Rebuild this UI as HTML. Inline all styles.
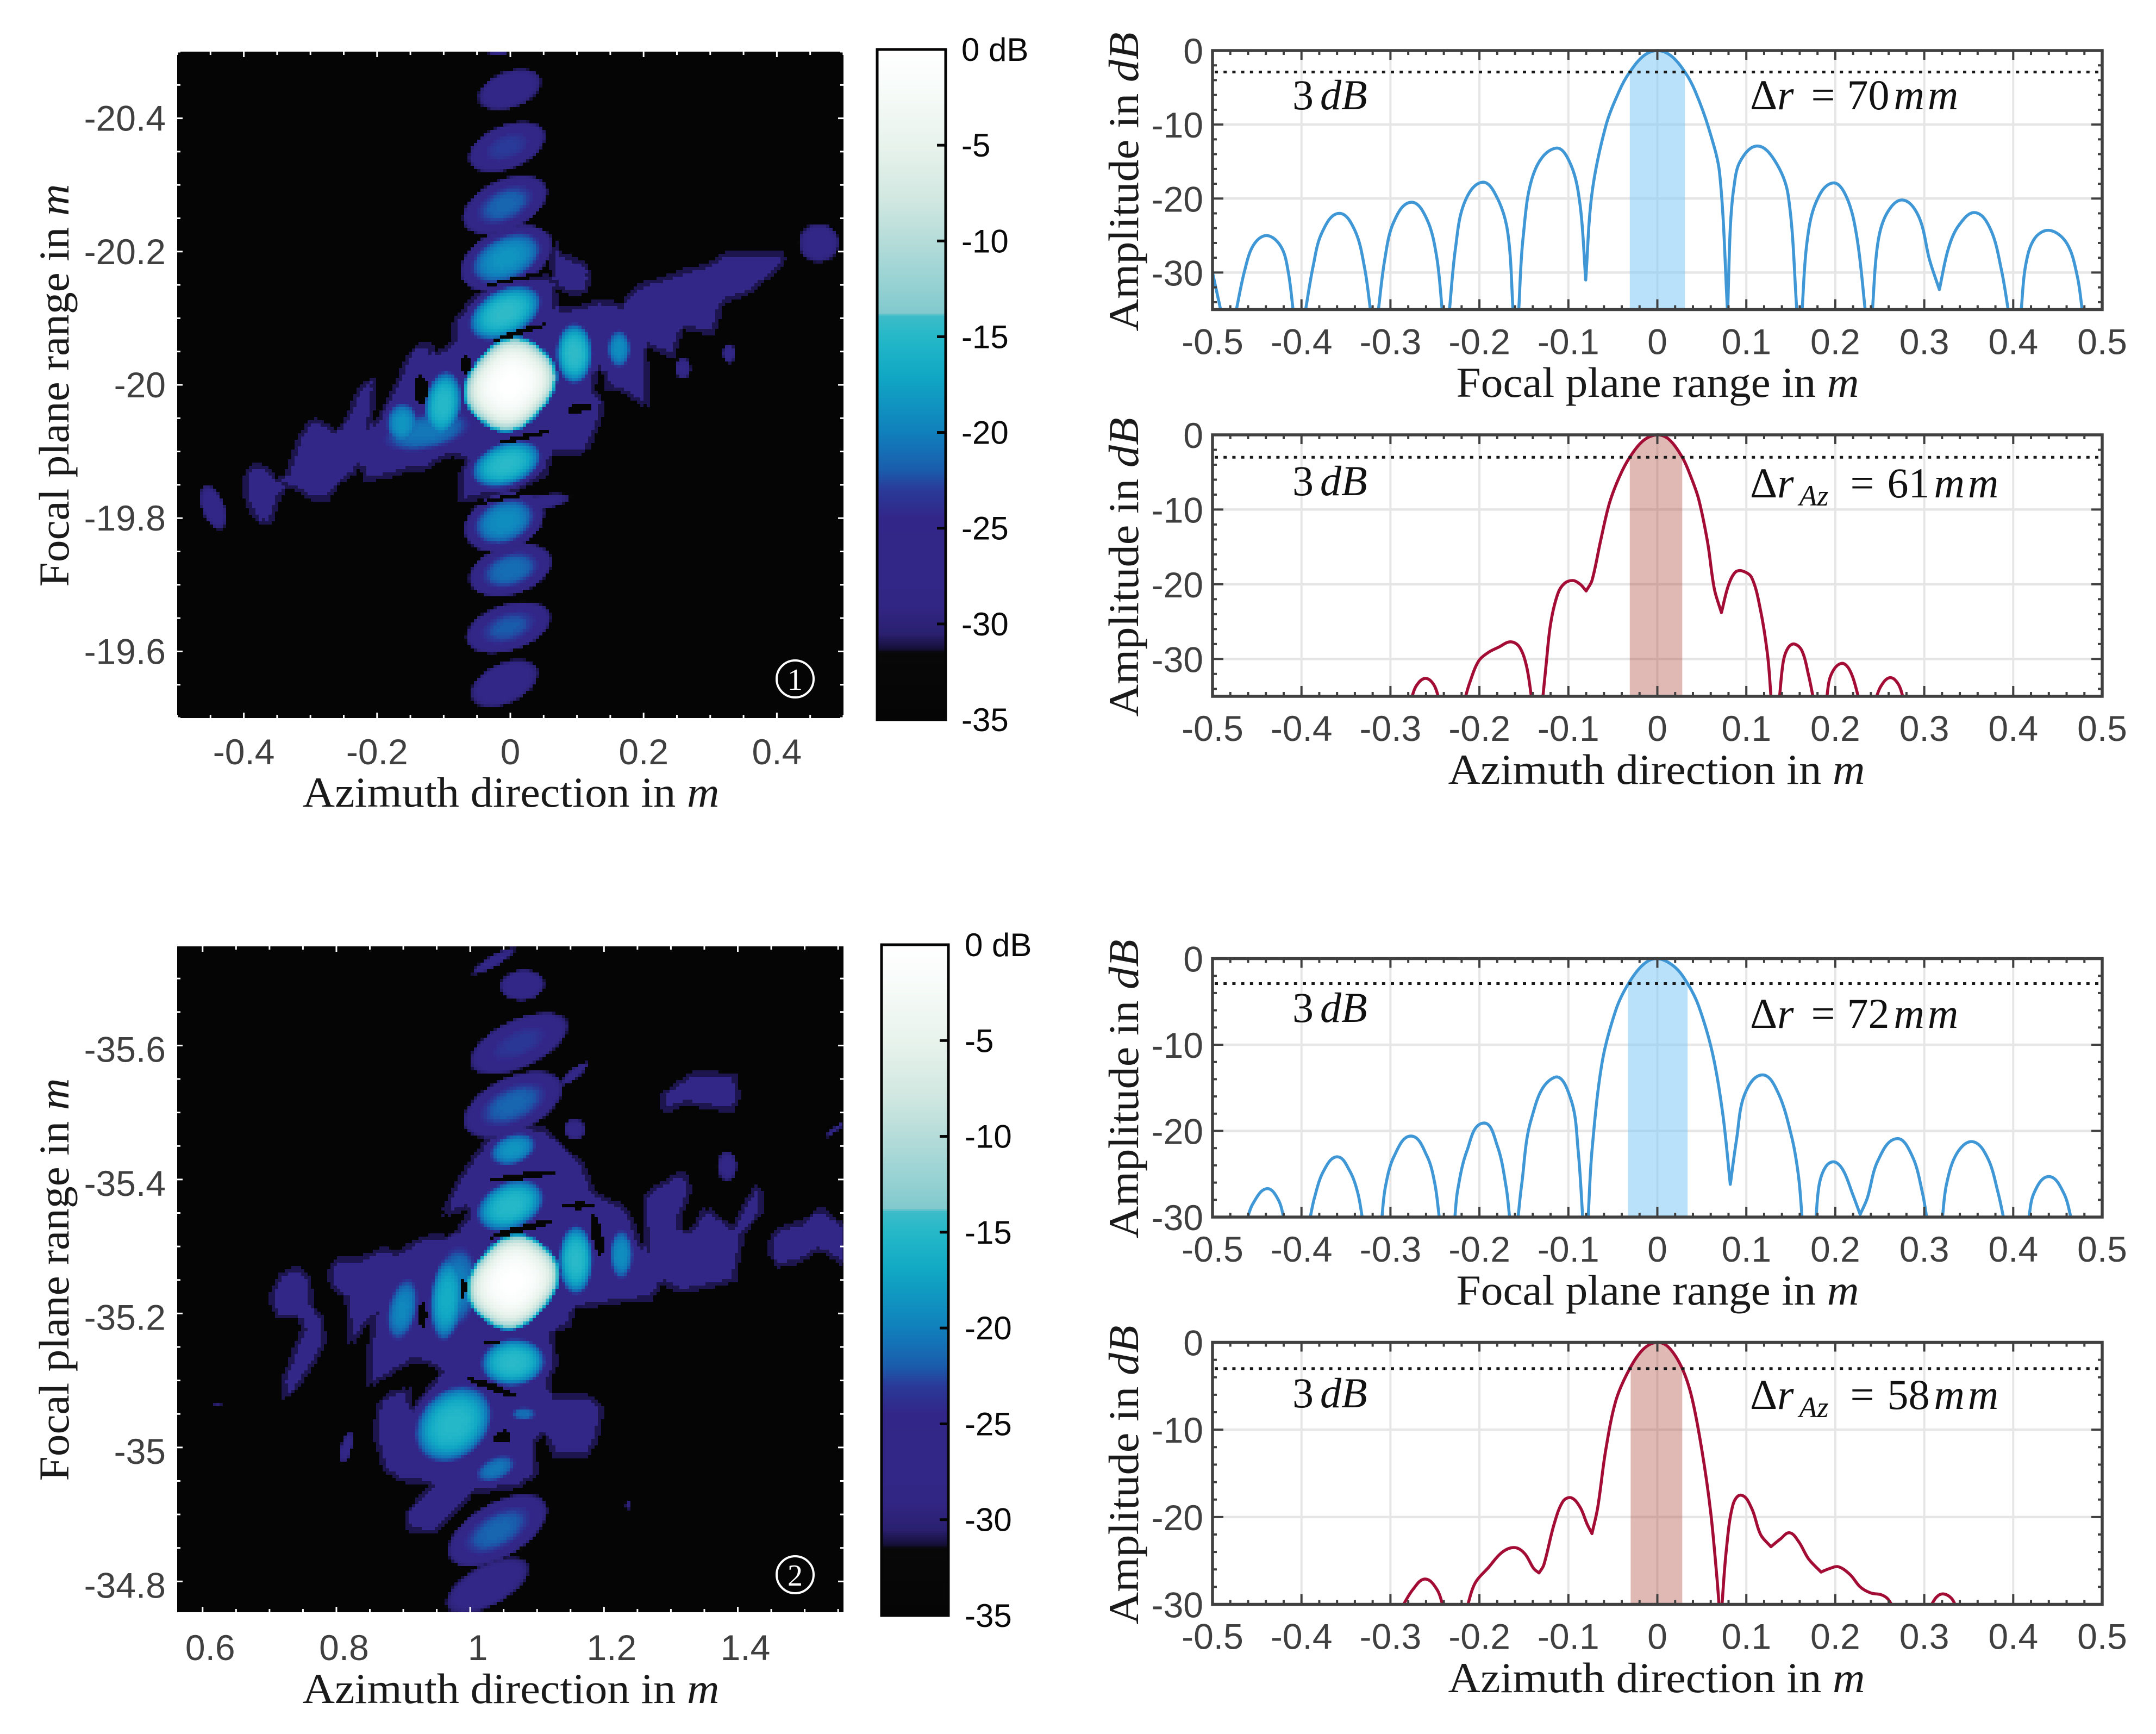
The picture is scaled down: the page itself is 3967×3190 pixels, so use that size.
<!DOCTYPE html>
<html lang="en">
<head>
<meta charset="utf-8">
<title>Point spread function heatmaps and amplitude profiles</title>
<style>
html,body{margin:0;padding:0;background:#fff;}
svg{display:block;}
.tick{font-family:"Liberation Sans",Arial,sans-serif;font-size:66px;fill:#404040;}
.cb{font-family:"Liberation Sans",Arial,sans-serif;font-size:60px;fill:#0a0a0a;}
.title{font-family:"Liberation Serif",serif;font-size:78px;fill:#1a1a1a;}
.note{font-family:"Liberation Serif",serif;font-size:78px;fill:#111;}
.sub{font-size:54px;font-style:italic;}
.mm{font-style:italic;letter-spacing:6px;}
i,.it{font-style:italic;}
</style>
</head>
<body>
<svg id="fig" xmlns="http://www.w3.org/2000/svg" width="3967" height="3190" viewBox="0 0 3967 3190">
<rect x="0" y="0" width="3967" height="3190" fill="#fff"/>
<g id="layer-marks"></g>

<!-- heatmap titles -->
<text class="title" text-anchor="middle" transform="translate(940,1484) scale(1.057,1)">Azimuth direction in <tspan class="it">m</tspan></text>
<text class="title" text-anchor="middle" transform="translate(126,709) rotate(-90) scale(1.043,1)">Focal plane range in <tspan class="it">m</tspan></text>
<text class="title" text-anchor="middle" transform="translate(940,3133) scale(1.057,1)">Azimuth direction in <tspan class="it">m</tspan></text>
<text class="title" text-anchor="middle" transform="translate(126,2354) rotate(-90) scale(1.043,1)">Focal plane range in <tspan class="it">m</tspan></text>

<!-- panel markers -->
<circle cx="1463" cy="1249" r="34" fill="none" stroke="#fff" stroke-width="4"/>
<text x="1463" y="1269" text-anchor="middle" font-family="Liberation Serif, serif" font-size="56" fill="#fff">1</text>
<circle cx="1463" cy="2897" r="34" fill="none" stroke="#fff" stroke-width="4"/>
<text x="1463" y="2917" text-anchor="middle" font-family="Liberation Serif, serif" font-size="56" fill="#fff">2</text>

<!-- profile titles -->
<text class="title" text-anchor="middle" transform="translate(3050,730) scale(1.043,1)">Focal plane range in <tspan class="it">m</tspan></text>
<text class="title" text-anchor="middle" transform="translate(3048,1442) scale(1.057,1)">Azimuth direction in <tspan class="it">m</tspan></text>
<text class="title" text-anchor="middle" transform="translate(3050,2400) scale(1.043,1)">Focal plane range in <tspan class="it">m</tspan></text>
<text class="title" text-anchor="middle" transform="translate(3048,3113) scale(1.057,1)">Azimuth direction in <tspan class="it">m</tspan></text>
<text class="title" text-anchor="middle" transform="translate(2094,334.5) rotate(-90) scale(1.058,1)">Amplitude in <tspan class="it">dB</tspan></text>
<text class="title" text-anchor="middle" transform="translate(2094,1043.5) rotate(-90) scale(1.058,1)">Amplitude in <tspan class="it">dB</tspan></text>
<text class="title" text-anchor="middle" transform="translate(2094,2003.5) rotate(-90) scale(1.058,1)">Amplitude in <tspan class="it">dB</tspan></text>
<text class="title" text-anchor="middle" transform="translate(2094,2713.5) rotate(-90) scale(1.058,1)">Amplitude in <tspan class="it">dB</tspan></text>

<!-- annotations -->
<text class="note" x="2378" y="201">3<tspan class="it" dx="12">dB</tspan></text>
<text class="note" x="3220" y="201">Δ<tspan class="it">r</tspan><tspan dx="32">=</tspan><tspan dx="22">70</tspan><tspan class="mm" dx="8">mm</tspan></text>
<text class="note" x="2378" y="911">3<tspan class="it" dx="12">dB</tspan></text>
<text class="note" x="3220" y="915">Δ<tspan class="it">r</tspan><tspan class="sub" dx="10" dy="15">Az</tspan><tspan dx="40" dy="-15">=</tspan><tspan dx="24">61</tspan><tspan class="mm" dx="8">mm</tspan></text>
<text class="note" x="2378" y="1880">3<tspan class="it" dx="12">dB</tspan></text>
<text class="note" x="3220" y="1891">Δ<tspan class="it">r</tspan><tspan dx="32">=</tspan><tspan dx="22">72</tspan><tspan class="mm" dx="8">mm</tspan></text>
<text class="note" x="2378" y="2589">3<tspan class="it" dx="12">dB</tspan></text>
<text class="note" x="3220" y="2592">Δ<tspan class="it">r</tspan><tspan class="sub" dx="10" dy="15">Az</tspan><tspan dx="40" dy="-15">=</tspan><tspan dx="24">58</tspan><tspan class="mm" dx="8">mm</tspan></text>
</svg>

<script>
/* ---------- colour scale (dB, colour) ---------- */
const cmapDb  = [0,-2,-5,-8,-10,-12,-13.8,-13.9,-15,-17,-20,-22,-23,-24.5,-29,-30.5,-31.3,-31.5,-35];
const cmapHex = ['#ffffff','#f7fbf9','#e8f3ec','#cfe7e0','#b5dcd9','#9ad3d4','#80c9cd','#3cbcc8','#25b8c8','#10a8c4','#1080bc','#1a5cac','#2a3a98','#322688','#322685','#2a2070','#15103a','#080808','#050505'];

/* ---------- heatmap 1: lobes = azimuth m, range m, half-axis a m, half-axis b m, tilt deg, peak dB ---------- */
const heat1Lobes = [
 [-.018,-20.5,.02,.004,0,-27],
 [-.001,-20.443,.052,.029,20,-26],
 [-.005,-20.357,.063,.034,22,-23],
 [-.008,-20.27,.07,.039,25,-21.5],
 [-.006,-20.19,.075,.045,25,-18.5],
 [-.008,-20.108,.072,.044,28,-14.5],
 [-.125,-19.93,.095,.04,12,-20.5],
 [0,-20.0006,.074,.063,50,0],
 [-.006,-19.881,.067,.04,20,-14.8],
 [-.009,-19.795,.064,.044,22,-19],
 [.048,-19.824,.045,.012,10,-28],
 [0,-19.722,.066,.038,17,-21],
 [-.003,-19.636,.068,.036,18,-22],
 [-.009,-19.552,.057,.032,25,-26],
 [.096,-20.047,.034,.056,0,-14.5],
 [.163,-20.054,.024,.038,0,-19],
 [-.101,-19.971,.034,.062,-8,-15],
 [-.162,-19.942,.032,.042,0,-18.5],
 [-.446,-19.816,.037,.018,-70,-27],
 [.463,-20.213,.032,.031,0,-27],
 [.259,-20.025,.013,.017,0,-28],
 [.328,-20.047,.01,.016,0,-28]
];
/* flat low-level regions outlined in azimuth m, range m */
const heat1Regions = [
 [[-.398,-19.856],[-.382,-19.881],[-.369,-19.872],[-.35,-19.852],[-.335,-19.862],[-.318,-19.913],[-.296,-19.946],[-.28,-19.939],[-.264,-19.926],[-.248,-19.939],[-.226,-19.99],[-.203,-20.009],[-.213,-19.926],[-.197,-19.945],[-.171,-19.996],[-.152,-20.041],[-.133,-20.061],[-.12,-20.057],[-.117,-20.041],[-.085,-20.06],[-.082,-20.092],[-.053,-20.13],[-.009,-20.152],[.049,-20.162],[.065,-20.155],[.067,-20.111],[.112,-20.117],[.138,-20.125],[.17,-20.117],[.189,-20.143],[.208,-20.152],[.234,-20.159],[.266,-20.171],[.298,-20.178],[.329,-20.197],[.406,-20.197],[.409,-20.184],[.374,-20.155],[.349,-20.136],[.317,-20.127],[.307,-20.092],[.301,-20.079],[.256,-20.088],[.246,-20.053],[.246,-20.044],[.224,-20.053],[.202,-20.063],[.205,-19.97],[.189,-19.98],[.17,-19.993],[.148,-19.996],[.141,-20.025],[.128,-20.025],[.122,-19.99],[.138,-19.97],[.132,-19.945],[.116,-19.91],[.1,-19.897],[.061,-19.897],[.052,-19.868],[.01,-19.846],[-.073,-19.827],[-.074,-19.862],[-.06,-19.888],[-.085,-19.897],[-.111,-19.888],[-.136,-19.872],[-.162,-19.872],[-.194,-19.862],[-.216,-19.859],[-.224,-19.888],[-.238,-19.868],[-.258,-19.856],[-.277,-19.83],[-.293,-19.83],[-.321,-19.846],[-.34,-19.849],[-.35,-19.83],[-.36,-19.798],[-.372,-19.792],[-.385,-19.808],[-.395,-19.83]],
 [[.061,-20.232],[.071,-20.197],[.106,-20.181],[.119,-20.165],[.112,-20.143],[.097,-20.136],[.068,-20.152],[.065,-20.168]]
];
/* nulls: azimuth m, range m, half-axis a, half-axis b, tilt deg */
const heat1Nulls = [
 [.015,-20.079,.04,.004,18],
 [.018,-19.921,.042,.004,13],
 [-.134,-19.993,.01,.021,0],
 [-.067,-20.029,.007,.014,0],
 [.103,-19.965,.019,.007,10],
 [.01,-20.159,.048,.003,12],
 [.01,-19.834,.07,.003,12]
];

/* ---------- heatmap 2 ---------- */
const heat2Lobes = [
 [1.064,-35.247,.074,.063,50,0],
 [.98,-35.24,.045,.085,-5,-20],
 [1.078,-35.69,.035,.024,5,-26],
 [1.035,-35.726,.04,.009,30,-28],
 [1.073,-35.603,.082,.037,25,-23.2],
 [1.064,-35.512,.082,.042,25,-21.5],
 [1.156,-35.558,.028,.008,40,-28],
 [1.156,-35.475,.017,.017,0,-28],
 [1.064,-35.445,.048,.03,20,-18.5],
 [1.06,-35.361,.066,.044,25,-15],
 [1.158,-35.28,.032,.064,0,-14.8],
 [1.226,-35.288,.024,.05,0,-19],
 [.965,-35.222,.032,.08,-5,-16.5],
 [.899,-35.206,.065,.03,78,-19.5],
 [1.064,-35.127,.06,.044,5,-14.8],
 [.975,-35.035,.08,.062,45,-15],
 [1.08,-35.05,.028,.015,0,-21],
 [1.038,-34.968,.046,.025,25,-20.5],
 [1.041,-34.876,.085,.042,30,-21.5],
 [1.026,-34.794,.072,.032,28,-26],
 [1.384,-35.42,.016,.024,0,-28],
 [.815,-35,.026,.009,75,-28],
 [.622,-35.062,.013,.003,0,-30],
 [1.236,-34.914,.005,.008,0,-30],
 [1.546,-35.475,.02,.004,40,-29]
];
const heat2Regions = [
 [[.791,-35.26],[.806,-35.282],[.841,-35.282],[.873,-35.295],[.892,-35.288],[.93,-35.311],[.949,-35.314],[.975,-35.311],[.994,-35.336],[1.003,-35.361],[.962,-35.349],[.981,-35.393],[1.007,-35.431],[1.032,-35.463],[1.07,-35.475],[1.108,-35.475],[1.14,-35.444],[1.168,-35.418],[1.184,-35.377],[1.222,-35.361],[1.238,-35.342],[1.251,-35.304],[1.264,-35.285],[1.261,-35.368],[1.28,-35.387],[1.318,-35.409],[1.327,-35.387],[1.311,-35.342],[1.314,-35.32],[1.334,-35.323],[1.353,-35.355],[1.375,-35.336],[1.394,-35.323],[1.416,-35.368],[1.432,-35.39],[1.435,-35.355],[1.407,-35.323],[1.394,-35.253],[1.368,-35.244],[1.318,-35.234],[1.286,-35.25],[1.267,-35.222],[1.222,-35.219],[1.153,-35.209],[1.146,-35.184],[1.121,-35.174],[1.127,-35.127],[1.114,-35.095],[1.121,-35.076],[1.172,-35.076],[1.197,-35.057],[1.187,-35.013],[1.172,-34.99],[1.127,-34.987],[1.114,-35.025],[1.095,-35.013],[1.097,-34.962],[1.07,-34.943],[1,-34.933],[.968,-34.898],[.943,-34.873],[.908,-34.879],[.905,-34.898],[.949,-34.946],[.899,-34.952],[.873,-34.971],[.859,-35.019],[.864,-35.063],[.886,-35.082],[.908,-35.085],[.911,-35.047],[.937,-35.082],[.962,-35.114],[.943,-35.127],[.908,-35.13],[.851,-35.095],[.848,-35.127],[.86,-35.209],[.835,-35.177],[.822,-35.158],[.816,-35.228],[.794,-35.241]],
 [[.703,-35.222],[.718,-35.257],[.743,-35.266],[.759,-35.247],[.762,-35.209],[.778,-35.19],[.781,-35.158],[.759,-35.12],[.737,-35.089],[.724,-35.076],[.721,-35.095],[.737,-35.139],[.753,-35.177],[.746,-35.196],[.714,-35.196]],
 [[1.286,-35.52],[1.308,-35.539],[1.337,-35.558],[1.394,-35.555],[1.4,-35.526],[1.388,-35.504],[1.349,-35.51],[1.321,-35.517],[1.292,-35.504]],
 [[1.448,-35.304],[1.464,-35.326],[1.502,-35.336],[1.524,-35.355],[1.546,-35.336],[1.559,-35.33],[1.559,-35.276],[1.534,-35.292],[1.515,-35.295],[1.489,-35.279],[1.464,-35.272],[1.448,-35.292]]
];
const heat2Nulls = [
 [1.076,-35.326,.05,.005,15],
 [1.08,-35.405,.055,.005,8],
 [1.162,-35.361,.026,.005,0],
 [1.19,-35.317,.008,.032,10],
 [.929,-35.198,.006,.02,0],
 [.989,-35.238,.005,.014,0],
 [1.035,-35.089,.04,.005,-20],
 [1.032,-35.156,.012,.003,0],
 [1.048,-35.016,.014,.009,15]
];

/* ---------- heatmap tick labels ---------- */
const heat1XTicks = [-0.4,-0.2,0,0.2,0.4];
const heat1YTicks = [-20.4,-20.2,-20,-19.8,-19.6];
const heat2XTicks = [0.6,0.8,1,1.2,1.4];
const heat2YTicks = [-35.6,-35.4,-35.2,-35,-34.8];
const colorbarTicks = [0,-5,-10,-15,-20,-25,-30,-35];

/* ---------- amplitude profiles ---------- */
const profileXTicks = [-0.5,-0.4,-0.3,-0.2,-0.1,0,0.1,0.2,0.3,0.4,0.5];
const profile35YTicks = [0,-10,-20,-30];
const profile30YTicks = [0,-10,-20,-30];

const range1X = [-.5,-.49,-.474,-.464,-.454,-.439,-.423,-.415,-.409,-.396,-.387,-.377,-.358,-.34,-.329,-.322,-.314,-.3065,-.2964,-.277,-.259,-.248,-.2415,-.234,-.227,-.217,-.197,-.18,-.168,-.162,-.156,-.151,-.139,-.1146,-.097,-.0867,-.0805,-.0735,-.058,-.0426,-.031,-.0155,0,.0155,.031,.0426,.058,.07,.079,.082,.086,.093,.112,.1316,.147,.157,.1625,.168,.178,.197,.213,.2245,.234,.2415,.2477,.258,.276,.294,.306,.317,.327,.339,.3576,.375,.387,.395,.4087,.414,.424,.441,.4605,.472,.478];
const range1Y = [-30,-35.5,-35.5,-29.8,-26.3,-25,-26.5,-29.8,-35.5,-35.5,-29.2,-24.6,-22,-24.3,-29.4,-35.5,-35.5,-28.3,-23.2,-20.5,-22.8,-27.9,-35.5,-35.5,-26.8,-20.6,-17.8,-19.9,-24.7,-35.5,-35.5,-25.4,-16.6,-13.2,-15.5,-21,-31,-19.3,-10.2,-5.4,-2.9,-.72,0,-.72,-2.9,-5.5,-10.6,-16.6,-35.5,-24,-18.5,-15,-12.9,-14.8,-19.5,-35.5,-35.5,-26.1,-20.6,-17.9,-19.9,-25.4,-35.5,-35.5,-26.1,-22,-20.2,-22.5,-28.3,-32.3,-26.8,-23.6,-21.9,-24.3,-29.8,-35.5,-35.5,-29,-25.4,-24.3,-26.1,-30.5,-35.5];

const azimuth1X = [-.277,-.271,-.261,-.2515,-.245,-.2167,-.211,-.201,-.1896,-.178,-.165,-.155,-.147,-.141,-.129,-.125,-.12,-.112,-.1045,-.095,-.0867,-.08,-.0735,-.064,-.054,-.0426,-.031,-.0155,0,.013,.028,.037,.0464,.0565,.064,.072,.0797,.0875,.095,.106,.116,.124,.128,.137,.1416,.147,.154,.1625,.17,.1757,.19,.195,.2067,.2167,.227,.245,.2515,.2616,.271,.277];
const azimuth1Y = [-35.5,-33.6,-32.6,-33.4,-35.5,-35.5,-33.2,-30.3,-29.1,-28.4,-27.7,-28.4,-31,-35.5,-35.5,-30.7,-25.3,-21.3,-19.9,-19.5,-20,-20.9,-19.5,-14.3,-9.2,-5.6,-3,-.75,0,-.6,-3,-5.4,-8.6,-14.4,-20.6,-23.8,-20.2,-18.4,-18.2,-19.1,-23.5,-29.6,-35.5,-35.5,-30.3,-28.5,-28,-28.9,-32.2,-35.5,-35.5,-32.2,-30.6,-31.6,-35.5,-35.5,-33.6,-32.5,-33.4,-35.5];

const range2X = [-.462,-.4543,-.439,-.426,-.419,-.391,-.3855,-.3754,-.36,-.346,-.3367,-.331,-.31,-.3057,-.2957,-.277,-.259,-.25,-.2446,-.228,-.2245,-.214,-.196,-.18,-.17,-.1656,-.157,-.1525,-.1416,-.116,-.0967,-.089,-.0836,-.078,-.0735,-.062,-.0464,-.0325,-.0155,0,.0193,.034,.0464,.062,.0735,.082,.089,.098,.1176,.1354,.151,.1587,.163,.178,.182,.1896,.199,.209,.219,.228,.236,.2477,.2686,.2864,.298,.3034,.32,.325,.3367,.3545,.3715,.383,.39,.417,.4234,.44,.4567,.466];
const range2Y = [-30.5,-28.4,-26.7,-28,-30.5,-30.5,-27.8,-24.7,-23,-24.6,-27.2,-30.5,-30.5,-26.5,-22.9,-20.6,-22.9,-26.2,-30.5,-30.5,-26.9,-22.3,-19.1,-21.7,-26.5,-30.5,-30.5,-26.2,-18.6,-13.8,-16.5,-22.3,-30.5,-30.5,-22.3,-12,-5.9,-2.9,-.66,0,-.95,-2.9,-5.5,-11,-18,-26.2,-21,-15.8,-13.5,-15.5,-20.7,-25.3,-30.5,-30.5,-26.2,-24.1,-23.6,-24.6,-27.2,-29.7,-27.8,-23.5,-20.9,-22.9,-27.2,-30.5,-30.5,-26.2,-22.6,-21.25,-23.2,-27.2,-30.5,-30.5,-27.2,-25.3,-27.2,-30.5];

const azimuth2X = [-.288,-.2748,-.261,-.2477,-.24,-.2144,-.205,-.19,-.174,-.16,-.149,-.139,-.133,-.1277,-.116,-.106,-.0967,-.0867,-.079,-.0735,-.067,-.058,-.0464,-.031,-.0155,0,.013,.028,.0387,.05,.06,.067,.07,.072,.0774,.085,.0944,.106,.116,.1277,.1385,.1486,.1587,.17,.184,.1935,.2036,.2167,.228,.24,.2516,.2593,.2655,.3057,.3135,.321,.3305,.3367];
const azimuth2Y = [-30.5,-28.3,-27.1,-28.3,-30.5,-30.5,-27.6,-25.8,-24,-23.5,-24.2,-25.9,-26.4,-25.5,-20.8,-18.2,-17.8,-18.9,-20.8,-21.9,-18.9,-12.3,-6.6,-3,-.75,0,-.6,-3,-6.3,-12.3,-19.5,-27,-31,-31,-23.9,-18.6,-17.5,-19,-22,-23.4,-22.5,-21.8,-22.8,-24.8,-26.3,-25.9,-25.7,-26.6,-28,-28.7,-28.9,-29.4,-30.5,-30.5,-29.2,-28.8,-29.3,-30.5];

/* ---------- helpers ---------- */
const SVGNS = 'http://www.w3.org/2000/svg';
const root = document.getElementById('layer-marks');
function svgEl(tag, attrs, parent) {
  const el = document.createElementNS(SVGNS, tag);
  for (const k in attrs) el.setAttribute(k, attrs[k]);
  (parent || root).appendChild(el);
  return el;
}
function hexRgb(h) {
  return [parseInt(h.slice(1,3),16), parseInt(h.slice(3,5),16), parseInt(h.slice(5,7),16)];
}
const cmapRgb = cmapHex.map(hexRgb);
function dbColor(db) {
  if (db >= cmapDb[0]) return cmapHex[0];
  for (let i = 1; i < cmapDb.length; i++) {
    if (db >= cmapDb[i]) {
      const t = (cmapDb[i-1] - db) / (cmapDb[i-1] - cmapDb[i]);
      const a = cmapRgb[i-1], b = cmapRgb[i];
      return 'rgb(' + Math.round(a[0]+(b[0]-a[0])*t) + ',' + Math.round(a[1]+(b[1]-a[1])*t) + ',' + Math.round(a[2]+(b[2]-a[2])*t) + ')';
    }
  }
  return cmapHex[cmapHex.length-1];
}

/* ---------- heatmap ---------- */
const EDGE_DB = -32;
const REGION_DB = -27;
function inPoly(P, az, r) {
  let inside = false;
  for (let i = 0, j = P.length-1; i < P.length; j = i++) {
    if ((P[i][1] > r) !== (P[j][1] > r) && az < (P[j][0]-P[i][0])*(r-P[i][1])/(P[j][1]-P[i][1]) + P[i][0]) inside = !inside;
  }
  return inside;
}
function inRegions(regs, az, r) {
  for (let k = 0; k < regs.length; k++) {
    const b = regs[k].box;
    if (az < b[0] || az > b[1] || r < b[2] || r > b[3]) continue;
    if (inPoly(regs[k].pts, az, r)) return true;
  }
  return false;
}
function fieldDb(opt, regs, az, rng, pxAz, pxR) {
  const lobes = opt.lobes;
  let best = -40;
  const off = 5 / pxAz;
  let cov = 0;
  if (inRegions(regs, az-off, rng-off)) cov++;
  if (inRegions(regs, az+off, rng-off)) cov++;
  if (inRegions(regs, az-off, rng+off)) cov++;
  if (inRegions(regs, az+off, rng+off)) cov++;
  if (cov >= 3) best = REGION_DB;
  else if (cov >= 1) best = -30.9;
  for (let k = 0; k < lobes.length; k++) {
    const L = lobes[k];
    const dx = (az - L[0]) * pxAz, dy = (rng - L[1]) * pxR;
    const t = L[4] * Math.PI / 180;
    const u = (dx * Math.cos(t) - dy * Math.sin(t)) / (L[2] * pxAz);
    const v = (dx * Math.sin(t) + dy * Math.cos(t)) / (L[3] * pxR);
    let val = -40;
    if (L[5] > -5) {
      const n = Math.pow(Math.pow(Math.abs(u),2.5) + Math.pow(Math.abs(v),2.5), 2/2.5);
      if (n >= 1) continue;
      const s2 = 1 - Math.pow(10, (EDGE_DB - L[5]) / 20);
      val = L[5] + 20 * Math.log10(1 - s2 * n);
    } else {
      const d2 = u*u + v*v;
      if (d2 >= 1) continue;
      val = L[5] + (EDGE_DB - L[5]) * Math.pow(d2, 1.5);
    }
    if (val > best) best = val;
  }
  if (best < -17) {
    for (let k = 0; k < opt.nulls.length; k++) {
      const N = opt.nulls[k];
      const dx = (az - N[0]) * pxAz, dy = (rng - N[1]) * pxR;
      const t = N[4] * Math.PI / 180;
      const u = (dx * Math.cos(t) - dy * Math.sin(t)) / (N[2] * pxAz);
      const v = (dx * Math.sin(t) + dy * Math.cos(t)) / (N[3] * pxR);
      if (u*u + v*v < 1) return -40;
    }
  }
  return best;
}

function drawHeatmap(opt) {
  const sx = (opt.x1 - opt.x0) / (opt.azMax - opt.azMin);
  const sy = (opt.y1 - opt.y0) / (opt.rMax - opt.rMin);
  const scaleX = v => opt.x0 + (v - opt.azMin) * sx;
  const scaleY = v => opt.y0 + (v - opt.rMin) * sy;

  const regs = opt.regions.map(P => {
    const xs = P.map(p => p[0]), ys = P.map(p => p[1]);
    return {pts:P, box:[Math.min.apply(null,xs), Math.max.apply(null,xs), Math.min.apply(null,ys), Math.max.apply(null,ys)]};
  });

  const bg = svgEl('rect', {x:opt.x0, y:opt.y0, width:opt.x1-opt.x0, height:opt.y1-opt.y0, fill:'#050505'});
  
  

  const cells = svgEl('g', {'shape-rendering':'crispEdges'});
  
  
  const cell = 6;
  const nx = Math.ceil((opt.x1-opt.x0)/cell), ny = Math.ceil((opt.y1-opt.y0)/cell);
  for (let j = 0; j < ny; j++) {
    let runStart = -1, runKey = null;
    const py = opt.y0 + j*cell;
    const ph = Math.min(cell, opt.y1 - py);
    const rngVal = opt.rMin + (py + cell/2 - opt.y0) / sy;
    for (let i = 0; i <= nx; i++) {
      let key = null;
      if (i < nx) {
        const azVal = opt.azMin + (i*cell + cell/2) / sx;
        const db = fieldDb(opt, regs, azVal, rngVal, sx, sy);
        if (db > -31.5) key = Math.round(db*4)/4;
      }
      if (key !== runKey) {
        if (runKey !== null) {
          const rx = opt.x0 + runStart*cell;
          const rw = Math.min((i-runStart)*cell, opt.x1 - rx);
          const r = svgEl('rect', {x:rx, y:py, width:rw, height:ph, fill:dbColor(runKey)}, cells);
          
          
        }
        runStart = i; runKey = key;
      }
    }
  }

  /* white inner ticks */
  const ticks = svgEl('g', {stroke:'#fff', 'stroke-width':3});
  
  
  const first = Math.ceil(opt.azMin/0.05 - 1e-6);
  for (let n = first; n*0.05 <= opt.azMax + 1e-6; n++) {
    const X = scaleX(n*0.05), len = n % 4 === 0 ? 10 : 6;
    const a = svgEl('line', {x1:X, x2:X, y1:opt.y0, y2:opt.y0+len}, ticks);
    
    
    const b = svgEl('line', {x1:X, x2:X, y1:opt.y1, y2:opt.y1-len}, ticks);
    
    
  }
  const firstY = Math.ceil(opt.rMin/0.05 - 1e-6);
  for (let n = firstY; n*0.05 <= opt.rMax + 1e-6; n++) {
    const Y = scaleY(n*0.05), len = n % 4 === 0 ? 10 : 6;
    const a = svgEl('line', {x1:opt.x0, x2:opt.x0+len, y1:Y, y2:Y}, ticks);
    
    
    const b = svgEl('line', {x1:opt.x1, x2:opt.x1-len, y1:Y, y2:Y}, ticks);
    
    
  }

  opt.xTicks.forEach(v => {
    const t = svgEl('text', {'class':'tick', x:scaleX(v)+opt.labelDx, y:opt.xLabelY, 'text-anchor':'middle'});
    
    
    t.textContent = String(v);
  });
  opt.yTicks.forEach(v => {
    const t = svgEl('text', {'class':'tick', x:305, y:scaleY(v)+23+opt.labelDy, 'text-anchor':'end'});
    
    
    t.textContent = String(v);
  });
}

function drawColorbar(opt) {
  const H = opt.y1 - opt.y0;
  const Y = db => opt.y0 + (-db/35)*H;
  for (let d = 0; d < 35; d += 0.1) {
    const s = svgEl('rect', {x:opt.x0, y:Y(-d), width:opt.x1-opt.x0, height:H/350+1, fill:dbColor(-d-0.05), 'shape-rendering':'crispEdges'});
    
    
  }
  const f = svgEl('rect', {x:opt.x0, y:opt.y0, width:opt.x1-opt.x0, height:H, fill:'none', stroke:'#050505', 'stroke-width':5});
  
  
  colorbarTicks.forEach(v => {
    const Yv = Y(v);
    if (v !== 0 && v !== -35) {
      const l = svgEl('line', {x1:opt.x1-16, x2:opt.x1, y1:Yv, y2:Yv, stroke:'#050505', 'stroke-width':5});
      
      
    }
    const t = svgEl('text', {'class':'cb', x:opt.labelX, y:Yv+21});
    
    
    t.textContent = v === 0 ? '0 dB' : String(v);
  });
}

/* ---------- profile plot ---------- */
function curveSegments(px, py, ys) {
  const n = px.length;
  const brk = i => i === 0 || i === n-1 || (ys[i] <= ys[i-1] && ys[i] <= ys[i+1]);
  const unit = (dx, dy) => { const l = Math.hypot(dx, dy) || 1; return [dx/l, dy/l]; };
  let d = 'L' + px[0].toFixed(1) + ',' + py[0].toFixed(1);
  for (let i = 0; i < n-1; i++) {
    const dx = px[i+1]-px[i], dy = py[i+1]-py[i];
    const len = Math.hypot(dx, dy);
    const t0 = brk(i) ? unit(dx, dy) : unit(px[i+1]-px[i-1], py[i+1]-py[i-1]);
    const t1 = brk(i+1) ? unit(dx, dy) : unit(px[i+2]-px[i], py[i+2]-py[i]);
    d += 'C' + (px[i]+t0[0]*len/3).toFixed(1) + ',' + (py[i]+t0[1]*len/3).toFixed(1) + ' ' +
         (px[i+1]-t1[0]*len/3).toFixed(1) + ',' + (py[i+1]-t1[1]*len/3).toFixed(1) + ' ' +
         px[i+1].toFixed(1) + ',' + py[i+1].toFixed(1);
  }
  return d;
}

function drawProfile(o) {
  const x0 = 2231, x1 = 3868;
  const X = v => x0 + (v + 0.5) * (x1 - x0);
  const Y = v => o.top + (-v) * (o.bottom - o.top) / (-o.yMin);

  const clip = svgEl('clipPath', {id:o.name + '-clip'});
  
  
  const cr = svgEl('rect', {x:x0, y:o.top-3, width:x1-x0, height:o.bottom-o.top+3}, clip);
  
  

  /* grid */
  profileXTicks.forEach(v => {
    if (v === -0.5 || v === 0.5) return;
    const l = svgEl('line', {x1:X(v), x2:X(v), y1:o.top, y2:o.bottom, stroke:'#e6e6e6', 'stroke-width':4});
    
    
  });
  o.yTicks.forEach(v => {
    if (v === 0 || v === o.yMin) return;
    const l = svgEl('line', {x1:x0, x2:x1, y1:Y(v), y2:Y(v), stroke:'#e6e6e6', 'stroke-width':4.5});
    
    
  });

  const px = o.xs.map(X), py = o.ys.map(Y);
  const seg = curveSegments(px, py, o.ys);

  /* 3 dB band, filled under the curve */
  const areaClip = svgEl('clipPath', {id:o.name + '-area'});
  
  
  const ap = svgEl('path', {d:'M' + px[0].toFixed(1) + ',' + o.bottom + seg + 'L' + px[px.length-1].toFixed(1) + ',' + o.bottom + 'Z'}, areaClip);
  
  
  const band = svgEl('rect', {x:X(o.bandLo), y:o.top, width:X(o.bandHi)-X(o.bandLo), height:o.bottom-o.top, fill:o.bandFill, 'clip-path':'url(#' + o.name + '-area)'});
  
  

  /* curve */
  const line = svgEl('path', {d:'M' + px[0].toFixed(1) + ',' + py[0].toFixed(1) + seg, fill:'none', stroke:o.color, 'stroke-width':o.width, 'stroke-linejoin':'round', 'clip-path':'url(#' + o.name + '-clip)'});
  
  

  /* -3 dB reference */
  const dots = svgEl('line', {x1:x0+4, x2:x1, y1:Y(o.ref), y2:Y(o.ref), stroke:'#1a1a1a', 'stroke-width':5, 'stroke-dasharray':'6 10.2'});
  
  

  /* ticks */
  const tk = svgEl('g', {stroke:'#404040', 'stroke-width':4});
  
  
  for (let n = -25; n <= 25; n++) {
    const major = n % 5 === 0, v = n * 0.02;
    const a = svgEl('line', {x1:X(v), x2:X(v), y1:o.top, y2:o.top+(major?17:8)}, tk);
    
    
    const b = svgEl('line', {x1:X(v), x2:X(v), y1:o.bottom, y2:o.bottom-(major?19:8)}, tk);
    
    
  }
  for (let v = 0; v >= o.yMin; v -= 2) {
    const major = v % 10 === 0;
    const a = svgEl('line', {x1:x0, x2:x0+(major?20:8), y1:Y(v), y2:Y(v)}, tk);
    
    
    const b = svgEl('line', {x1:x1, x2:x1-(major?20:8), y1:Y(v), y2:Y(v)}, tk);
    
    
  }

  /* frame */
  const f = svgEl('rect', {x:x0, y:o.top, width:x1-x0, height:o.bottom-o.top, fill:'none', stroke:'#404040', 'stroke-width':5.5});
  
  

  /* labels */
  profileXTicks.forEach(v => {
    const t = svgEl('text', {'class':'tick', x:X(v), y:o.bottom+82, 'text-anchor':'middle'});
    
    
    t.textContent = String(v);
  });
  o.yTicks.forEach(v => {
    const t = svgEl('text', {'class':'tick', x:2214, y:Y(v)+24, 'text-anchor':'end'});
    
    
    t.textContent = String(v);
  });
}

/* ---------- compose ---------- */
drawHeatmap({name:'heatmap-1', lobes:heat1Lobes, regions:heat1Regions, nulls:heat1Nulls, x0:326, x1:1552, y0:95, y1:1321, azMin:-0.5, azMax:0.5, rMin:-20.5, rMax:-19.5, xTicks:heat1XTicks, yTicks:heat1YTicks, xLabelY:1406, labelDx:0, labelDy:0});
drawHeatmap({name:'heatmap-2', lobes:heat2Lobes, regions:heat2Regions, nulls:heat2Nulls, x0:326, x1:1552, y0:1741, y1:2966, azMin:0.562, azMax:1.558, rMin:-35.748, rMax:-34.754, xTicks:heat2XTicks, yTicks:heat2YTicks, xLabelY:3054, labelDx:14, labelDy:7});
drawColorbar({x0:1614, x1:1740, y0:91, y1:1324, labelX:1769});
drawColorbar({x0:1622, x1:1745, y0:1738, y1:2972, labelX:1775});

const blueFill = 'rgba(130,200,245,0.55)';
const redFill = 'rgba(170,60,50,0.36)';
drawProfile({name:'profile-1', top:93, bottom:569.5, yMin:-35, yTicks:profile35YTicks, xs:range1X, ys:range1Y, color:'#3f97d6', width:5.5, bandLo:-.031, bandHi:.031, bandFill:blueFill, ref:-2.9});
drawProfile({name:'profile-2', top:800, bottom:1281, yMin:-35, yTicks:profile35YTicks, xs:azimuth1X, ys:azimuth1Y, color:'#a30d35', width:5.5, bandLo:-.031, bandHi:.028, bandFill:redFill, ref:-3});
drawProfile({name:'profile-3', top:1763.5, bottom:2239, yMin:-30, yTicks:profile30YTicks, xs:range2X, ys:range2Y, color:'#3f97d6', width:5.5, bandLo:-.033, bandHi:.034, bandFill:blueFill, ref:-2.9});
drawProfile({name:'profile-4', top:2469.5, bottom:2951.5, yMin:-30, yTicks:profile30YTicks, xs:azimuth2X, ys:azimuth2Y, color:'#a30d35', width:5.5, bandLo:-.030, bandHi:.028, bandFill:redFill, ref:-3});
</script>
</body>
</html>
